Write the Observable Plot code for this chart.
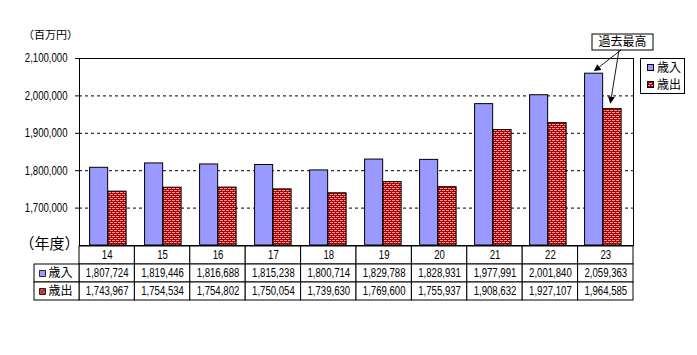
<!DOCTYPE html>
<html><head><meta charset="utf-8">
<script src="https://cdn.jsdelivr.net/npm/d3@7"></script>
<script src="https://cdn.jsdelivr.net/npm/@observablehq/plot@0.6"></script>
<style>
html,body{margin:0;padding:0;background:#fff;}
#wrap{position:relative;width:697px;height:355px;overflow:hidden;background:#fff;}
#wrap > svg{position:absolute;left:0;top:0;}
.legend{position:absolute;left:640px;top:58px;width:43px;height:34px;border:1px solid #000;background:#fff;font:12px "Noto Sans CJK JP",sans-serif;color:#000;}
.legend div{position:absolute;left:6px;height:14px;line-height:14px;white-space:nowrap;}
.legend svg{vertical-align:middle;margin-right:3px;position:relative;top:-1px;}
</style></head><body><div id="wrap"></div>
<script>
// ---- data ----
const years = ["14","15","16","17","18","19","20","21","22","23"];
const revenue = [1807724,1819446,1816688,1815238,1800714,1829788,1828931,1977991,2001840,2059363];
const expenditure = [1743967,1754534,1754802,1750054,1739630,1769600,1755937,1908632,1927107,1964585];
const seriesNames = ["歳入","歳出"];
const yTicks = [1700000,1800000,1900000,2000000,2100000];
const yDomain = [1600000,2100000];
const yUnit = "（百万円）";
const xUnit = "（年度）";
const annotationText = "過去最高";
const annotatedYear = "23";

// ---- layout / style ----
const W = 697, H = 355, mL = 79, mR = 64, mT = 58, mB = 110;
const NUM = "Liberation Sans,sans-serif";
const NUM_SCALE = 0.8;
const JP = '"Noto Sans CJK JP",sans-serif';
const revColor = "#9999ff";
const expFill = "url(#brick)";
const bw = (W - mL - mR) / years.length;
const barW = bw / 3;
const in0 = bw * 0.155;

const rows = years.map((y, i) => ({year: y, rev: revenue[i], exp: expenditure[i]}));

const defsMark = () => {
  const defs = d3.create("svg:defs");
  const p = defs.append("pattern").attr("id", "brick").attr("patternUnits", "userSpaceOnUse")
    .attr("width", 4).attr("height", 4);
  p.append("rect").attr("width", 4).attr("height", 4).attr("fill", "#a80000");
  p.append("rect").attr("x", 0).attr("y", 0).attr("width", 3).attr("height", 1).attr("fill", "#ff9a9a");
  p.append("rect").attr("x", 2).attr("y", 2).attr("width", 2).attr("height", 1).attr("fill", "#ff9a9a");
  p.append("rect").attr("x", 0).attr("y", 2).attr("width", 1).attr("height", 1).attr("fill", "#ff9a9a");
  return defs.node();
};

const annotationMark = (index, scales) => {
  const x = scales.x, y = scales.y;
  const g = d3.create("svg:g");
  const x0 = x(annotatedYear);
  const i = years.indexOf(annotatedYear);
  const tips = [
    [x0 + in0 + barW / 2, y(revenue[i]) - 2],
    [x0 + in0 + barW * 1.5 - 2, y(expenditure[i]) - 5]
  ];
  const bx = 592, by = 34, bwid = 61, bh = 16;
  g.append("rect").attr("x", bx).attr("y", by).attr("width", bwid).attr("height", bh)
    .attr("fill", "white").attr("stroke", "black");
  g.append("text").attr("x", bx + bwid / 2).attr("y", by + bh / 2).attr("text-anchor", "middle")
    .attr("dy", "0.36em").attr("font-family", JP).attr("font-size", 12).attr("fill", "black").text(annotationText);
  const starts = [[621, by + bh], [619, by + bh]];
  tips.forEach(([tx, ty], k) => {
    const [sx, sy] = starts[k];
    const ang = Math.atan2(ty - sy, tx - sx);
    const L = 7, Wd = 3.5;
    const bxp = tx - L * Math.cos(ang), byp = ty - L * Math.sin(ang);
    g.append("line").attr("x1", sx).attr("y1", sy).attr("x2", bxp).attr("y2", byp)
      .attr("stroke", "black").attr("stroke-width", 0.9);
    const px = -Math.sin(ang) * Wd, py = Math.cos(ang) * Wd;
    g.append("path").attr("d", `M${tx},${ty}L${bxp + px},${byp + py}L${bxp - px},${byp - py}Z`).attr("fill", "black");
  });
  return g.node();
};

const chart = Plot.plot({
  width: W, height: H, marginLeft: mL, marginRight: mR, marginTop: mT, marginBottom: mB,
  style: {background: "transparent", overflow: "visible"},
  x: {type: "band", domain: years, padding: 0, axis: null},
  y: {domain: yDomain, axis: null},
  marks: [
    defsMark,
    Plot.gridY(yTicks.slice(0, -1), {stroke: "#000", strokeOpacity: 1, strokeDasharray: "3,3"}),
    Plot.barY(rows, {x: "year", y1: () => yDomain[0], y2: "rev", fill: revColor, stroke: "#000", strokeWidth: 1,
      insetLeft: in0, insetRight: bw - in0 - barW}),
    Plot.barY(rows, {x: "year", y1: () => yDomain[0], y2: "exp", fill: expFill, stroke: "#000", strokeWidth: 1,
      insetLeft: in0 + barW, insetRight: bw - in0 - 2 * barW}),
    Plot.frame({stroke: "#000"}),
    Plot.axisY(yTicks, {tickSize: 4, tickPadding: 8, tickFormat: d3.format(","), fontSize: 12, fontFamily: NUM, label: null}),
    Plot.text([yUnit], {frameAnchor: "top-left", dx: -29, dy: -23, textAnchor: "middle", lineAnchor: "middle", fontSize: 11, fontFamily: JP, fill: "#000"}),
    Plot.text([xUnit], {frameAnchor: "bottom-left", dx: -30, dy: -1, textAnchor: "middle", lineAnchor: "middle", fontSize: 15, fontFamily: JP, fill: "#000"}),
    annotationMark
  ]
});

// ---- table ----
const labelW = 45 / bw;
const cells = seriesNames.flatMap((s, k) => years.map((y, i) => ({s, i, v: (k === 0 ? revenue : expenditure)[i]})));
const table = Plot.plot({
  width: W, height: H, marginLeft: mL, marginRight: mR, marginTop: H - mB, marginBottom: 55,
  style: {background: "transparent", overflow: "visible"},
  x: {domain: [0, years.length], axis: null},
  y: {type: "band", domain: ["year", ...seriesNames], padding: 0, axis: null},
  marks: [
    Plot.barX(years, {x1: (d, i) => i, x2: (d, i) => i + 1, y: () => "year", fill: "white", stroke: "#000"}),
    Plot.barX(cells, {x1: "i", x2: d => d.i + 1, y: "s", fill: "white", stroke: "#000"}),
    Plot.barX(seriesNames, {x1: () => -labelW, x2: () => 0, y: d => d, fill: "white", stroke: "#000"}),
    Plot.text(years, {x: (d, i) => i + 0.5, y: () => "year", text: d => d, fontSize: 12, fontFamily: NUM, fill: "#000"}),
    Plot.text(cells, {x: d => d.i + 0.5, y: "s", text: d => d3.format(",")(d.v), fontSize: 12, fontFamily: NUM, fill: "#000"}),
    Plot.dot([seriesNames[0]], {x: () => -labelW, y: d => d, dx: 8, symbol: "square", r: 3.4, fill: revColor, stroke: "#000", strokeWidth: 0.8}),
    Plot.dot([seriesNames[1]], {x: () => -labelW, y: d => d, dx: 8, symbol: "square", r: 3.4, fill: expFill, stroke: "#000", strokeWidth: 0.8}),
    Plot.text(seriesNames, {x: () => -labelW, y: d => d, dx: 14, text: d => d, textAnchor: "start", fontSize: 12, fontFamily: JP, fill: "#000"})
  ]
});

const wrap = document.getElementById("wrap");
wrap.appendChild(table);
wrap.appendChild(chart);

// narrow the numeric labels horizontally (scale about each label's anchor)
d3.select(wrap).selectAll("svg g").filter(function () { return this.getAttribute("font-family") === NUM; })
  .selectAll("text").each(function () {
    const t = d3.select(this);
    let tr = t.attr("transform") || "";
    const xa = t.attr("x");
    if (xa != null && isFinite(+xa)) {
      tr += ` translate(${+xa},0)`;
      t.attr("x", null);
    }
    t.attr("transform", `${tr} scale(${NUM_SCALE},1)`.trim());
  });

// ---- legend ----
const legend = document.createElement("div");
legend.className = "legend";
seriesNames.forEach((s, k) => {
  const row = document.createElement("div");
  row.style.top = (k === 0 ? 1 : 18) + "px";
  row.innerHTML = `<svg width="7" height="7"><rect x="0.5" y="0.5" width="6" height="6" fill="${k === 0 ? revColor : expFill}" stroke="#000"/></svg>`;
  row.appendChild(document.createTextNode(s));
  legend.appendChild(row);
});
wrap.appendChild(legend);
</script>
</body></html>
